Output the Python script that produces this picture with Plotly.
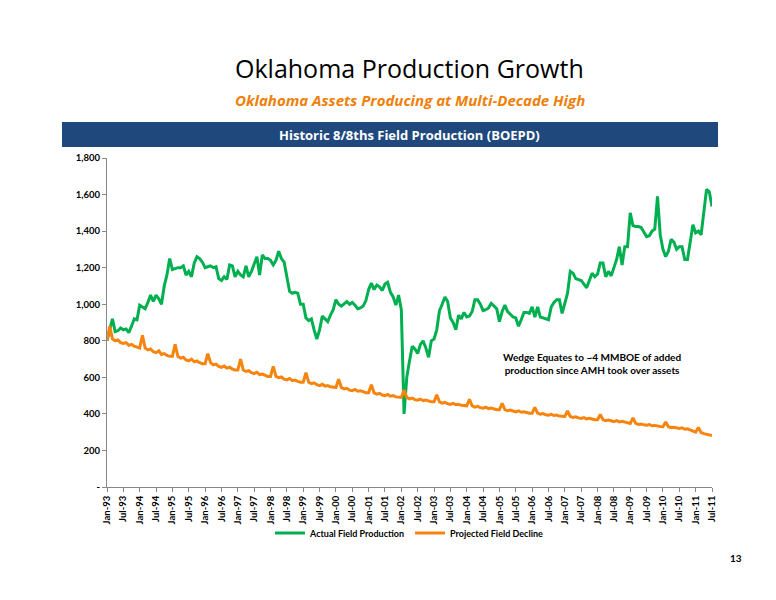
import plotly.graph_objects as go

mon = ["Jan","Feb","Mar","Apr","May","Jun","Jul","Aug","Sep","Oct","Nov","Dec"]
years = list(range(1993, 2012))
months = [f"{m}-{str(y)[2:]}" for y in years for m in mon][:223]

actual = [
800, 860, 920, 850, 855, 870, 860, 865, 845, 880, 920, 915,
995, 985, 975, 1010, 1050, 1015, 1050, 1030, 1000, 1100, 1160, 1250,
1190, 1195, 1200, 1200, 1210, 1160, 1180, 1150, 1225, 1260, 1250, 1230,
1200, 1205, 1210, 1200, 1205, 1140, 1130, 1150, 1135, 1215, 1210, 1150,
1180, 1160, 1150, 1210, 1150, 1180, 1220, 1260, 1160, 1270, 1250, 1250,
1240, 1215, 1240, 1290, 1250, 1230, 1150, 1070, 1060, 1065, 1060, 1000,
1000, 925, 910, 920, 860, 810, 860, 935, 920, 905, 940, 970,
1025, 1000, 990, 1000, 1015, 1000, 1010, 995, 975, 980, 990, 1020,
1080, 1115, 1080, 1105, 1095, 1075, 1110, 1120, 1065, 1040, 995, 1050,
970, 400, 600, 690, 770, 755, 730, 780, 800, 760, 710, 800,
810, 860, 965, 1000, 1040, 1015, 925, 900, 860, 940, 920, 955,
930, 935, 960, 1025, 1025, 1000, 965, 970, 980, 1005, 990, 975,
905, 960, 995, 960, 945, 930, 925, 880, 915, 955, 955, 950,
985, 930, 985, 930, 925, 920, 915, 985, 1010, 1025, 1025, 950,
1010, 1060, 1180, 1170, 1140, 1135, 1130, 1110, 1090, 1130, 1170, 1150,
1165, 1225, 1225, 1150, 1180, 1155, 1195, 1245, 1315, 1215, 1315, 1315,
1500, 1430, 1425, 1425, 1420, 1395, 1370, 1375, 1400, 1410, 1590, 1380,
1300, 1260, 1290, 1355, 1340, 1300, 1315, 1315, 1245, 1245, 1340, 1435,
1390, 1400, 1380, 1500, 1628, 1615, 1535,
]

projected = [
800, 880, 810, 800, 805, 790, 785, 790, 775, 780, 770, 765,
760, 830, 760, 750, 755, 740, 735, 745, 725, 730, 720, 715,
715, 780, 715, 705, 710, 695, 690, 700, 685, 690, 680, 675,
675, 730, 680, 668, 672, 660, 655, 662, 650, 655, 645, 640,
640, 700, 640, 632, 636, 625, 620, 628, 615, 618, 610, 605,
605, 660, 605, 598, 602, 590, 586, 594, 582, 585, 578, 573,
573, 625, 573, 565, 570, 560, 555, 562, 552, 555, 548, 544,
544, 590, 545, 537, 540, 530, 527, 534, 524, 527, 520, 516,
516, 560, 515, 508, 512, 503, 500, 506, 497, 500, 493, 490,
490, 530, 490, 482, 486, 478, 475, 481, 472, 476, 469, 466,
466, 505, 466, 459, 463, 455, 452, 458, 450, 453, 447, 444,
444, 480, 444, 437, 441, 434, 431, 437, 429, 432, 426, 423,
423, 458, 423, 417, 421, 414, 411, 417, 409, 412, 406, 404,
404, 436, 404, 398, 402, 395, 393, 398, 391, 394, 388, 386,
386, 416, 386, 380, 384, 378, 375, 380, 373, 376, 371, 368,
368, 397, 368, 363, 366, 360, 358, 363, 356, 359, 354, 352,
348, 378, 348, 342, 345, 340, 338, 342, 335, 337, 333, 331,
330, 356, 330, 325, 327, 322, 320, 324, 316, 318, 312, 308,
300, 325, 298, 292, 290, 285, 282,
]

tick_labels = months[::6]
y_ticks = [0, 200, 400, 600, 800, 1000, 1200, 1400, 1600, 1800]
y_tick_text = ["-", "200", "400", "600", "800", "1,000", "1,200", "1,400", "1,600", "1,800"]

FONT = "Open Sans"
TFONT = "Lato"
OFF = 8  # page body margin
W, H = 776, 600
L, T = 107 - OFF, 158 - OFF
R, B = W - (712 - OFF), H - (487 - OFF)
PW, PH = W - L - R, H - T - B
def py(pix):
    return (H - B - (pix - OFF)) / PH
def px(pix):
    return (pix - OFF - L) / PW

fig = go.Figure()
fig.add_trace(go.Scatter(x=months, y=actual, mode="lines", name="<b>Actual Field Production</b>",
                         line=dict(color="#00B050", width=3)))
fig.add_trace(go.Scatter(x=months, y=projected, mode="lines", name="<b>Projected Field Decline</b>",
                         line=dict(color="#F7840F", width=3)))

fig.update_layout(
    width=W, height=H,
    margin=dict(l=L, r=R, t=T, b=B, autoexpand=False),
    paper_bgcolor="white", plot_bgcolor="white",
    font=dict(family=FONT, color="#000"),
    showlegend=True,
    legend=dict(orientation="h", x=0.5, xanchor="center", y=py(533), yanchor="middle",
                bgcolor="rgba(0,0,0,0)", font=dict(size=9, family=TFONT), traceorder="normal"),
    xaxis=dict(type="category", range=[0, 222], tickmode="array", tickvals=tick_labels,
               ticktext=[f"<b>{t}</b>" for t in tick_labels], tickangle=-90,
               tickfont=dict(size=9.5, family=TFONT),
               showgrid=False, showline=True, linecolor="#888", ticks="outside",
               ticklen=4, tickcolor="#888", automargin=False),
    yaxis=dict(range=[0, 1800], tickmode="array", tickvals=y_ticks,
               ticktext=[f"<b>{t}</b>" for t in y_tick_text],
               tickfont=dict(size=9.5, family=TFONT), showgrid=False, showline=True,
               linecolor="#888", ticks="outside", ticklen=4, tickcolor="#888",
               zeroline=False, automargin=False),
    shapes=[dict(type="rect", xref="paper", yref="paper", x0=px(62), x1=px(718),
                 y0=py(147), y1=py(122), fillcolor="#1F497D", line=dict(width=0))],
    annotations=[
        dict(text="Oklahoma Production Growth", x=0.5, xref="paper", y=py(68), yref="paper",
             yanchor="middle", showarrow=False, font=dict(size=25, family=FONT)),
        dict(text="<b><i>Oklahoma Assets Producing at Multi-Decade High</i></b>", x=0.5, xref="paper",
             y=py(100), yref="paper", yanchor="middle", showarrow=False,
             font=dict(size=15, color="#F07F09", family=FONT)),
        dict(text="<b>Historic 8/8ths Field Production (BOEPD)</b>", x=0.5, xref="paper",
             y=py(135), yref="paper", yanchor="middle", showarrow=False,
             font=dict(size=13, color="white", family=FONT)),
        dict(text="<b>Wedge Equates to ~4 MMBOE of added<br>production since AMH took over assets</b>",
             x=px(592), xref="paper", xanchor="center", y=py(363), yref="paper", yanchor="middle",
             showarrow=False, align="center", font=dict(size=10, family=TFONT)),
        dict(text="<b>13</b>", x=px(736), xref="paper", xanchor="center", y=py(558), yref="paper",
             yanchor="middle", showarrow=False, font=dict(size=10, family=TFONT)),
    ],
)
fig.write_html("out.html")
